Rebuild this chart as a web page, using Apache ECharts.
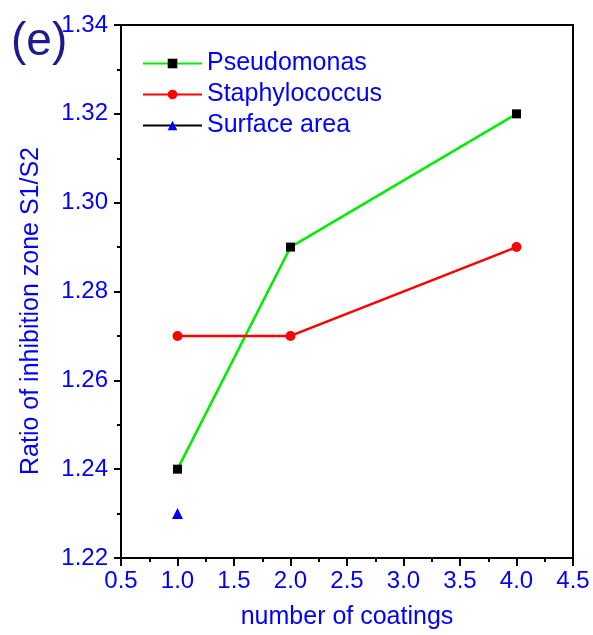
<!DOCTYPE html>
<html>
<head>
<meta charset="utf-8">
<script src="https://cdn.jsdelivr.net/npm/echarts@6/dist/echarts.min.js"></script>
<style>
  html, body { margin: 0; padding: 0; background: #fff; }
  #chart { width: 593px; height: 635px; }
</style>
</head>
<body>
<div id="chart"></div>
<script>
// data
const coatings = [1, 2, 4];
const pseudomonas = [1.24, 1.29, 1.32];
const staphylococcus = [1.27, 1.27, 1.29];
const surfaceX = [1];
const surfaceArea = [1.23];

const pair = (xs, ys) => xs.map((x, i) => [x, ys[i]]);

const BLUE = '#0000ff';
const FONT = 'Liberation Sans, Arial, sans-serif';

const chart = echarts.init(document.getElementById('chart'));

chart.setOption({
  animation: false,
  backgroundColor: '#fff',
  textStyle: { fontFamily: FONT },
  grid: {
    left: 121, right: 20, top: 25, bottom: 71,
    show: true, borderColor: '#000', borderWidth: 2, backgroundColor: 'transparent'
  },
  graphic: [{
    type: 'text', left: 11, top: 19,
    style: { text: '(e)', fontSize: 46, fill: '#1b1b8f', fontFamily: FONT }
  }],
  legend: {
    orient: 'vertical',
    left: 137, top: 46,
    itemWidth: 59, itemHeight: 12,
    itemGap: 6,
    textStyle: { color: BLUE, fontSize: 25, fontFamily: FONT },
    data: ['Pseudomonas', 'Staphylococcus', 'Surface area']
  },
  xAxis: {
    type: 'value', min: 0.5, max: 4.5, interval: 0.5,
    name: 'number of coatings', nameLocation: 'middle', nameGap: 47,
    nameTextStyle: { color: BLUE, fontSize: 25, fontFamily: FONT },
    axisLine: { lineStyle: { color: '#000', width: 2 } },
    axisTick: { length: 8, lineStyle: { color: '#000', width: 2 } },
    minorTick: { show: true, splitNumber: 2, length: 4, lineStyle: { color: '#000', width: 2 } },
    axisLabel: { color: BLUE, fontSize: 24, margin: 11, formatter: v => v.toFixed(1) },
    splitLine: { show: false }
  },
  yAxis: {
    type: 'value', min: 1.22, max: 1.34, interval: 0.02,
    name: 'Ratio of inhibition zone S1/S2', nameLocation: 'middle', nameGap: 77,
    nameTextStyle: { color: BLUE, fontSize: 25, fontFamily: FONT, padding: [0, 39, 0, 0] },
    axisLine: { lineStyle: { color: '#000', width: 2 } },
    axisTick: { length: 7, lineStyle: { color: '#000', width: 2 } },
    minorTick: { show: true, splitNumber: 2, length: 4, lineStyle: { color: '#000', width: 2 } },
    axisLabel: { color: BLUE, fontSize: 24, margin: 13, formatter: v => v.toFixed(2) },
    splitLine: { show: false }
  },
  series: [
    {
      name: 'Pseudomonas', type: 'line', data: pair(coatings, pseudomonas),
      symbol: 'rect', symbolSize: 9,
      lineStyle: { color: '#00ee00', width: 2.5 },
      itemStyle: { color: '#000' }
    },
    {
      name: 'Staphylococcus', type: 'line', data: pair(coatings, staphylococcus),
      symbol: 'circle', symbolSize: 10,
      lineStyle: { color: '#ff0000', width: 2.5 },
      itemStyle: { color: '#ff0000' }
    },
    {
      name: 'Surface area', type: 'line', data: pair(surfaceX, surfaceArea),
      symbol: 'triangle', symbolSize: 11,
      lineStyle: { color: '#000', width: 1 },
      itemStyle: { color: BLUE }
    }
  ]
});
</script>
</body>
</html>
